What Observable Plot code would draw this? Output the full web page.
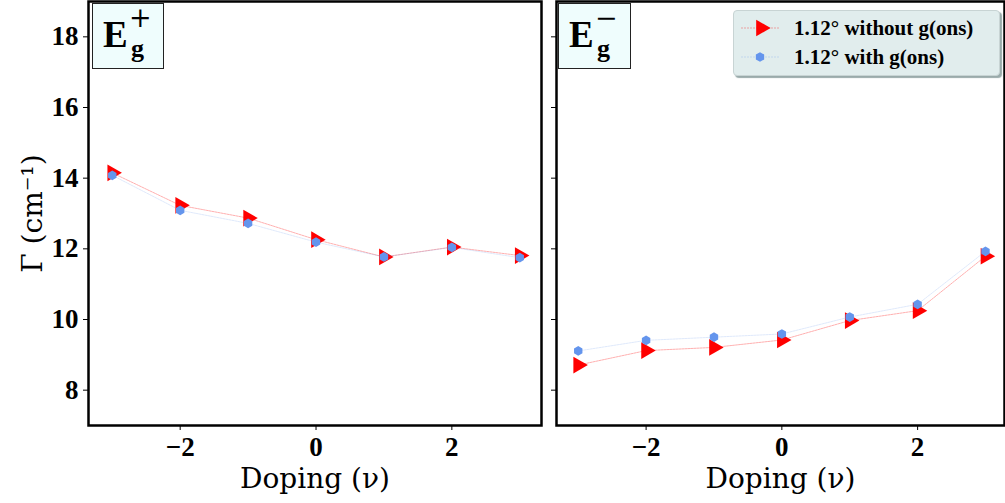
<!DOCTYPE html>
<html><head><meta charset="utf-8">
<script src="https://cdn.jsdelivr.net/npm/d3@7"></script>
<script src="https://cdn.jsdelivr.net/npm/@observablehq/plot@0.6"></script>
<style>
body{margin:0;background:#fff;}
#wrap{position:relative;width:1005px;height:503px;overflow:hidden;background:#fff;}
.panel{position:absolute;top:0;}
.panel svg{overflow:visible;}
.panel g[aria-label="x-axis label"] text,.panel g[aria-label="y-axis label"] text{font-family:"DejaVu Serif",serif;font-weight:normal;font-size:28px;}
.tag{position:absolute;top:3px;height:66px;background:#effdfd;border:1.3px solid #222;box-sizing:border-box;font-family:"Liberation Serif",serif;font-weight:bold;}
.tag .E{position:absolute;left:10px;top:12px;font-size:37px;line-height:1;}
.tag .sup{position:absolute;left:36px;top:-2px;font-family:"DejaVu Serif",serif;font-size:27px;font-weight:normal;line-height:1.17;}
.tag .sub{position:absolute;left:38px;top:32px;font-size:26px;line-height:1;}
.legend{position:absolute;left:733px;top:10px;width:267px;height:66px;background:#e1eded;border:1px solid #c8d4d4;border-radius:4px;box-sizing:border-box;box-shadow:2px 2px 1px #9aa;font-family:"Liberation Serif",serif;font-weight:bold;font-size:21px;}
.legend .row{position:absolute;left:60px;line-height:1;white-space:nowrap;}
.legend svg{position:absolute;left:0;top:0;}
</style></head><body><div id="wrap"></div>
<script>
const doping = [-3, -2, -1, 0, 1, 2, 3];
const egPlusWithout = [14.15, 13.23, 12.87, 12.26, 11.77, 12.05, 11.81];
const egPlusWith = [14.08, 13.09, 12.72, 12.19, 11.77, 12.04, 11.75];
const egMinusWithout = [8.71, 9.12, 9.21, 9.42, 9.97, 10.25, 11.79];
const egMinusWith = [9.11, 9.41, 9.50, 9.59, 10.07, 10.43, 11.93];
const yTicks = [8, 10, 12, 14, 16, 18];
const xTicks = [-2, 0, 2];
const seriesNames = ["1.12° without g(ons)", "1.12° with g(ons)"];
const RED = "#ff0000", BLUE = "#6495ed";

const rows = (ys) => doping.map((x, i) => ({x, y: ys[i]}));
const fmt = (d) => (d < 0 ? "−" : "") + Math.abs(d);

function panel(without, withG, o) {
  const a = rows(without), b = rows(withG);
  return Plot.plot({
    width: o.width, height: 503,
    marginLeft: o.ml, marginRight: o.mr, marginTop: 1, marginBottom: 78,
    x: {domain: o.xdom, label: null},
    y: {domain: [7, 19], label: null},
    style: {fontFamily: "Liberation Serif", fontSize: "27px", fontWeight: "bold", color: "#000", background: "transparent"},
    marks: [
      Plot.axisX({ticks: xTicks, tickFormat: fmt, tickSize: 5, tickPadding: 6, label: "Doping (ν)", labelAnchor: "center", labelArrow: "none", labelOffset: 62}),
      o.yLabels
        ? Plot.axisY({ticks: yTicks, tickFormat: fmt, tickSize: 5, tickPadding: 5, label: "Γ (cm⁻¹)", labelAnchor: "center", labelArrow: "none", labelOffset: 66})
        : Plot.axisY({ticks: yTicks, tickSize: 5, tickFormat: () => "", label: null}),
      Plot.line(a, {x: "x", y: "y", stroke: RED, strokeWidth: 0.7, strokeOpacity: 0.45, strokeDasharray: "2,1"}),
      Plot.dot(a, {x: "x", y: "y", symbol: "triangle", rotate: 90, r: 6.2, fill: RED, stroke: "none"}),
      Plot.line(b, {x: "x", y: "y", stroke: BLUE, strokeWidth: 0.7, strokeOpacity: 0.3, strokeDasharray: "2,1"}),
      Plot.dot(b, {x: "x", y: "y", symbol: "hexagon", r: 4.2, fill: BLUE, stroke: "none"}),
      Plot.frame({stroke: "#000", strokeWidth: 2.5})
    ]
  });
}

const wrap = document.getElementById("wrap");
function place(el, left) {
  const d = document.createElement("div");
  d.className = "panel"; d.style.left = left + "px";
  d.appendChild(el); wrap.appendChild(d);
}
place(panel(egPlusWithout, egPlusWith, {width: 545, ml: 88, mr: 4, xdom: [-3.35, 3.32], yLabels: true}), 0);
place(panel(egMinusWithout, egMinusWith, {width: 453, ml: 4, mr: 1, xdom: [-3.32, 3.28], yLabels: false}), 552);

function tag(left, width, sign) {
  const t = document.createElement("div");
  t.className = "tag"; t.style.left = left + "px"; t.style.width = width + "px";
  t.innerHTML = `<span class="E">E</span><span class="sup">${sign}</span><span class="sub">g</span>`;
  wrap.appendChild(t);
}
tag(92, 72, "+");
tag(558, 73, "−");

// legend swatches
const hex = d3.range(6).map(k => {
  const t = Math.PI / 3 * k + Math.PI / 6;
  return [(4.8 * Math.cos(t)).toFixed(2), (4.8 * Math.sin(t)).toFixed(2)].join(",");
}).join(" ");
const lg = document.createElement("div");
lg.className = "legend";
const ns = "http://www.w3.org/2000/svg";
const sv = document.createElementNS(ns, "svg");
sv.setAttribute("width", 70); sv.setAttribute("height", 66);
sv.innerHTML =
  `<line x1="7" x2="46" y1="17" y2="17" stroke="${RED}" stroke-opacity="0.45" stroke-width="0.7" stroke-dasharray="2,1"/>` +
  `<path d="${d3.symbol(d3.symbolTriangle, Math.PI * 6.2 * 6.2)()}" transform="translate(27,17) rotate(90)" fill="${RED}"/>` +
  `<line x1="7" x2="46" y1="46" y2="46" stroke="${BLUE}" stroke-opacity="0.35" stroke-width="0.7" stroke-dasharray="2,1"/>` +
  `<polygon points="${hex}" transform="translate(26,46)" fill="${BLUE}"/>`;
lg.appendChild(sv);
seriesNames.forEach((n, i) => {
  const r = document.createElement("div");
  r.className = "row"; r.style.top = (i === 0 ? 7 : 36) + "px"; r.textContent = n;
  lg.appendChild(r);
});
wrap.appendChild(lg);
</script></body></html>
